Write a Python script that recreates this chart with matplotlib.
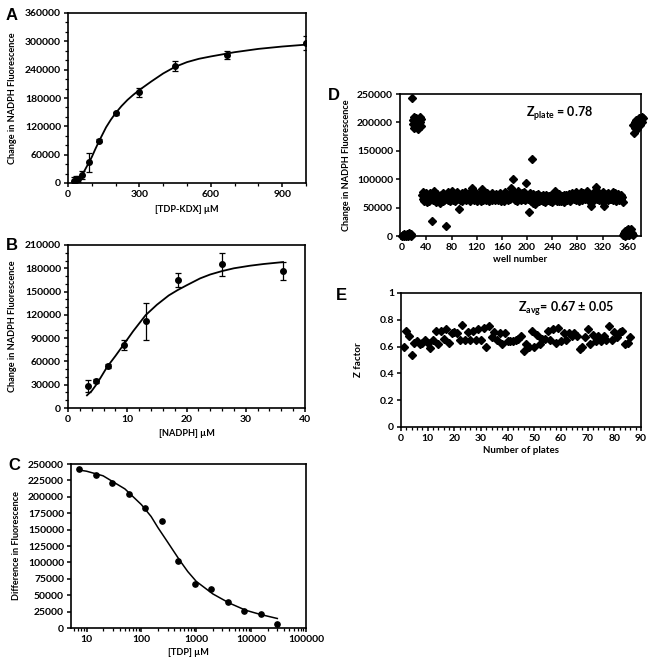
import numpy as np
import matplotlib
matplotlib.use('Agg')
import matplotlib.pyplot as plt
from matplotlib.ticker import MultipleLocator, FixedLocator, FuncFormatter, LogLocator, NullFormatter

# ── data ──────────────────────────────────────────────────────────────────
# A: TDP-KDX titration
a_x = [25, 35, 40, 60, 90, 130, 200, 300, 450, 670, 1000]
a_y = [4000, 6000, 9000, 17000, 44000, 90000, 148000, 192000, 248000, 271000, 296000]
a_err = [8000, 8000, 6000, 8000, 20000, 3000, 3000, 9000, 10000, 8000, 15000]
a_fit_x = [50, 65, 80, 100, 115, 130, 145, 160, 180, 200, 225, 250, 275, 300, 350,
           400, 450, 500, 550, 600, 700, 800, 900, 1000]
a_fit_y = [13000, 22000, 36000, 55000, 72000, 88000, 103000, 118000, 134000, 148000,
           163000, 176000, 187000, 197000, 215000, 232000, 246000, 256000, 263000,
           268000, 277000, 284000, 289000, 293000]

# B: NADPH titration
b_x = [3.4, 4.7, 6.7, 9.4, 13.1, 18.5, 26.0, 36.3]
b_y = [28000, 35000, 54500, 81000, 111500, 165000, 185000, 176500]
b_err = [8000, 2500, 2500, 6000, 23500, 9000, 15000, 11000]
b_fit_x = [3.2, 4, 4.7, 5.5, 6.6, 8, 9.4, 11, 13.1, 15, 17, 18.5, 20, 22.3, 24, 26,
           28, 30.7, 33, 36.3]
b_fit_y = [16300, 22000, 29300, 39000, 52900, 67000, 81800, 99000, 119600, 133000,
           145000, 151900, 158000, 167000, 172000, 176400, 180000, 183300, 185500, 188000]

# C: TDP inhibition
c_x = [7.3, 14.6, 29.3, 58.6, 117, 234, 469, 938, 1875, 3750, 7500, 15000, 30000]
c_y = [243000, 233500, 221500, 204000, 183000, 163000, 101500, 67500, 59000, 39000,
       26000, 21000, 6500]
c_fit_x = [7, 10, 20, 50, 100, 150, 200, 300, 500, 700, 1000, 2000, 4000, 8000,
           15000, 30000]
c_fit_y = [241000, 239000, 232000, 212000, 188000, 170000, 153000, 131000, 103000,
           86000, 71000, 52000, 38000, 27000, 20500, 14500]

# D: one 384-well plate (values in thousands)
neg_left_k = [0.5, 2, 1, 3, 0, 1.5, 0.8, 2.5, 4, 1, 0.3, 2, 5, 1.2, 3, 0.6]
pos_left_k = [243, 205, 198, 210, 190, 202, 207, 195, 200, 188, 204, 197, 209, 201, 193, 206]
compounds_k = [
    72, 66, 78, 61, 70, 64, 75, 68, 59, 73, 67, 62, 76, 69, 65, 71, 26, 74, 63, 79,
    66, 72, 60, 69, 74, 63, 68, 71, 58, 65, 73, 67, 70, 62, 76, 64, 69, 72, 18, 66,
    70, 64, 77, 68, 61, 73, 66, 80, 69, 63, 71, 67, 74, 62, 70, 65, 78, 68, 72, 47,
    64, 71, 67, 75, 62, 69, 73, 66, 78, 70, 63, 68, 72, 65, 76, 69, 61, 74, 67, 71,
    85, 68, 72, 63, 77, 66, 70, 74, 61, 69, 73, 65, 71, 67, 62, 82, 68, 64, 70, 66,
    72, 63, 69, 75, 66, 70, 62, 73, 68, 65, 71, 76, 64, 69, 72, 67, 63, 70, 74, 66,
    69, 64, 72, 67, 75, 62, 70, 66, 73, 68, 61, 71, 77, 65, 69, 74, 63, 70, 67, 72,
    66, 73, 84, 78, 100, 80, 70, 64, 75, 68, 72, 62, 79, 67, 71, 65, 74, 69, 63, 76,
    70, 66, 78, 64, 72, 68, 94, 73, 65, 71, 42, 76, 67, 62, 135, 69, 74, 58, 71, 66,
    57, 72, 63, 69, 66, 74, 61, 70, 67, 64, 71, 68, 62, 73, 65, 69, 60, 72, 66, 70,
    64, 71, 67, 62, 69, 73, 60, 66, 70, 63, 68, 72, 80, 65, 61, 69, 67, 74, 62, 70,
    66, 61, 71, 68, 64, 73, 59, 69, 67, 72, 63, 70, 65, 74, 68, 62, 71, 66, 75, 69,
    70, 65, 73, 68, 77, 64, 71, 67, 74, 62, 69, 72, 66, 78, 70, 63, 75, 68, 71, 65,
    72, 67, 80, 64, 70, 74, 66, 69, 52, 73, 65, 71, 76, 63, 70, 68, 74, 87, 66, 72,
    69, 75, 64, 71, 67, 73, 62, 70, 77, 52, 68, 74, 65, 72, 69, 63, 76, 67, 71, 65,
    73, 66, 70, 78, 64, 71, 68, 75, 62, 69, 72, 66, 74, 63, 70, 67, 73, 65, 68, 60,
]
neg_right_k = [2, 5, 0, 8, 3, 10, 6, 12, 4, 1, 9, 7, 13, 3, 6, 2]
pos_right_k = [195, 182, 200, 190, 205, 188, 198, 203, 193, 207, 200, 196, 204, 209, 201, 208]

# E: Z factor per plate
z_factor = [
    0.60, 0.72, 0.68, 0.54, 0.63, 0.64, 0.62, 0.63, 0.65, 0.63,
    0.59, 0.65, 0.72, 0.62, 0.72, 0.66, 0.73, 0.63, 0.70, 0.71,
    0.70, 0.65, 0.76, 0.65, 0.71, 0.65, 0.72, 0.65, 0.73, 0.65,
    0.74, 0.60, 0.75, 0.67, 0.71, 0.65, 0.70, 0.62, 0.70, 0.64,
    0.64, 0.64, 0.65, 0.66, 0.68, 0.57, 0.62, 0.60, 0.72, 0.60,
    0.69, 0.62, 0.66, 0.66, 0.72, 0.65, 0.73, 0.63, 0.74, 0.64,
    0.70, 0.65, 0.70, 0.68, 0.70, 0.68, 0.58, 0.60, 0.67, 0.73,
    0.62, 0.69, 0.64, 0.68, 0.64, 0.68, 0.65, 0.75, 0.65, 0.71,
    0.67, 0.71, 0.72, 0.62, 0.63, 0.67,
]

# ── style ─────────────────────────────────────────────────────────────────
plt.rcParams['font.family'] = ['Lato', 'DejaVu Sans']
plt.rcParams['font.weight'] = 'bold'
plt.rcParams['axes.labelweight'] = 'bold'
plt.rcParams['font.size'] = 7.5
plt.rcParams['mathtext.fontset'] = 'custom'
plt.rcParams['mathtext.rm'] = 'Lato:bold'
plt.rcParams['mathtext.bf'] = 'Lato:bold'
plt.rcParams['mathtext.default'] = 'bf'

LETTER = dict(fontsize=12, fontweight='bold', family='Liberation Sans')
TICK_FS = 7.5
LABEL_FS = 6.6


def style_axes(ax):
    for s in ax.spines.values():
        s.set_linewidth(1.2)
    ax.tick_params(which='major', direction='out', length=3, width=1.1,
                   labelsize=TICK_FS, pad=2)
    ax.tick_params(which='minor', direction='out', length=2, width=0.9)
    for lab in ax.get_xticklabels() + ax.get_yticklabels():
        lab.set_fontweight('bold')


W, H = 654, 664
fig = plt.figure(figsize=(W / 100, H / 100), dpi=100)


def box(l, t, r, b):
    return [l / W, 1 - b / H, (r - l) / W, (b - t) / H]


intfmt = FuncFormatter(lambda v, p: f'{int(round(v))}')

# ── A ─────────────────────────────────────────────────────────────────────
ax = fig.add_axes(box(68, 13, 306, 183))
ax.errorbar(a_x, a_y, yerr=a_err, fmt='o', color='black', ms=4, capsize=2,
            elinewidth=0.9, capthick=0.9)
ax.plot(a_fit_x, a_fit_y, color='black', lw=1.3)
ax.set_xlim(0, 1000)
ax.set_ylim(0, 360000)
ax.xaxis.set_major_locator(MultipleLocator(300))
ax.xaxis.set_minor_locator(MultipleLocator(100))
ax.yaxis.set_major_locator(MultipleLocator(60000))
ax.yaxis.set_minor_locator(MultipleLocator(20000))
ax.yaxis.set_major_formatter(intfmt)
ax.set_xlabel('[TDP-KDX] µM', fontsize=LABEL_FS, labelpad=4)
ax.set_ylabel('Change in NADPH Fluorescence', fontsize=LABEL_FS, labelpad=6)
style_axes(ax)
fig.text(6 / W, 1 - 15 / H, 'A', va='center', **LETTER)

# ── B ─────────────────────────────────────────────────────────────────────
ax = fig.add_axes(box(68, 245, 305, 408))
ax.errorbar(b_x, b_y, yerr=b_err, fmt='o', color='black', ms=4, capsize=2,
            elinewidth=0.9, capthick=0.9)
ax.plot(b_fit_x, b_fit_y, color='black', lw=1.3)
ax.set_xlim(0, 40)
ax.set_ylim(0, 210000)
ax.xaxis.set_major_locator(MultipleLocator(10))
ax.xaxis.set_minor_locator(MultipleLocator(2))
ax.yaxis.set_major_locator(MultipleLocator(30000))
ax.yaxis.set_minor_locator(MultipleLocator(10000))
ax.yaxis.set_major_formatter(intfmt)
ax.set_xlabel('[NADPH] µM', fontsize=LABEL_FS, labelpad=4)
ax.set_ylabel('Change in NADPH Fluorescence', fontsize=LABEL_FS, labelpad=6)
style_axes(ax)
fig.text(6 / W, 1 - 246 / H, 'B', va='center', **LETTER)

# ── C ─────────────────────────────────────────────────────────────────────
ax = fig.add_axes(box(71, 464, 306, 628))
ax.plot(c_x, c_y, 'o', color='black', ms=3.8)
ax.plot(c_fit_x, c_fit_y, color='black', lw=1.1)
ax.set_xscale('log')
ax.set_xlim(5.2, 100000)
ax.set_ylim(0, 250000)
ax.xaxis.set_major_locator(FixedLocator([10, 100, 1000, 10000, 100000]))
ax.xaxis.set_major_formatter(intfmt)
ax.xaxis.set_minor_locator(LogLocator(base=10, subs=np.arange(2, 10)))
ax.xaxis.set_minor_formatter(NullFormatter())
ax.yaxis.set_major_locator(MultipleLocator(25000))
ax.yaxis.set_major_formatter(intfmt)
ax.set_xlabel('[TDP] µM', fontsize=LABEL_FS, labelpad=3)
ax.set_ylabel('Difference in Fluorescence', fontsize=LABEL_FS, labelpad=5)
style_axes(ax)
fig.text(8 / W, 1 - 466 / H, 'C', va='center', **LETTER)

# ── D ─────────────────────────────────────────────────────────────────────
ax = fig.add_axes(box(400, 94, 641, 236))
plate = np.concatenate([neg_left_k, pos_left_k, compounds_k, neg_right_k, pos_right_k]) * 1000
wells = np.arange(1, len(plate) + 1)
ax.plot(wells, plate, 'D', color='black', ms=3.6, clip_on=False)
ax.set_xlim(-2, 381)
ax.set_ylim(0, 250000)
ax.xaxis.set_major_locator(MultipleLocator(40))
ax.yaxis.set_major_locator(MultipleLocator(50000))
ax.yaxis.set_major_formatter(intfmt)
ax.set_xlabel('well number', fontsize=LABEL_FS + 0.4, labelpad=2)
ax.set_ylabel('Change in NADPH Fluorescence', fontsize=LABEL_FS, labelpad=4)
ax.text(252, 216000, r'$\mathbf{Z}_{\mathbf{plate}}$ = 0.78', ha='center', va='center',
        fontsize=9)
style_axes(ax)
fig.text(328 / W, 1 - 96 / H, 'D', va='center', **LETTER)

# ── E ─────────────────────────────────────────────────────────────────────
ax = fig.add_axes(box(401, 293, 641, 427))
plates = np.arange(1, len(z_factor) + 1)
ax.plot(plates, z_factor, 'D', color='black', ms=3.6)
ax.set_xlim(0, 90)
ax.set_ylim(0, 1)
ax.xaxis.set_major_locator(MultipleLocator(10))
ax.xaxis.set_minor_locator(MultipleLocator(2))
ax.yaxis.set_major_locator(MultipleLocator(0.2))
ax.yaxis.set_major_formatter(FuncFormatter(lambda v, p: f'{v:g}'))
ax.set_xlabel('Number of plates', fontsize=LABEL_FS + 0.4, labelpad=2)
ax.set_ylabel('Z factor', fontsize=LABEL_FS + 0.4, labelpad=12)
ax.text(62, 0.885, r'$\mathbf{Z}_{\mathbf{avg}}$= 0.67 ± 0.05', ha='center', va='center',
        fontsize=9)
style_axes(ax)
fig.text(336 / W, 1 - 296 / H, 'E', va='center', **LETTER)

fig.savefig('out.png', dpi=100, facecolor='white')
